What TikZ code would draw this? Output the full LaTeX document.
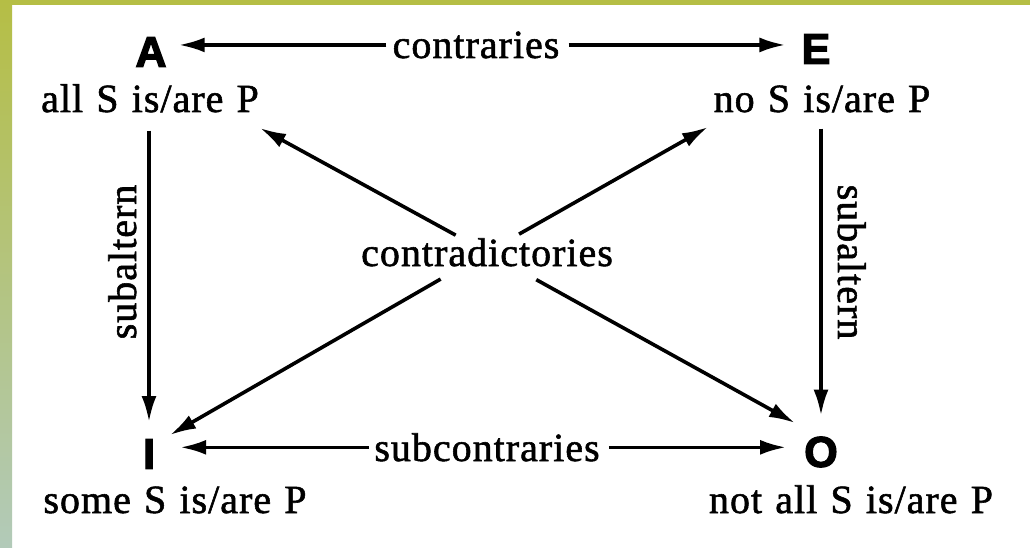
\documentclass[tikz,border=0pt]{standalone}
\usepackage{fontspec}
\setmainfont{Liberation Serif}[LetterSpace=2.5,WordSpace=1.2,FakeBold=1.4]
\newfontfamily\lf{Liberation Sans Bold}[FakeBold=3]
\usetikzlibrary{arrows.meta}
\definecolor{barTop}{HTML}{B5BE45}
\definecolor{barBot}{HTML}{B2CAB9}
\begin{document}
\begin{tikzpicture}[x=1pt,y=-1pt,
  txt/.style={font=\fontsize{40}{44}\selectfont, inner sep=0pt, anchor=base},
  let/.style={font=\lf\fontsize{43}{46}\selectfont, inner sep=0pt},
  arr/.style={line width=3.6pt, -{Latex[length=26pt,width=15pt]}}
]
\useasboundingbox (0,0) rectangle (1030,548);
\fill[white] (0,0) rectangle (1030,548);
\fill[barTop] (0,0) rectangle (1030,5);
\shade[top color=barTop, bottom color=barBot] (0,0) rectangle (12,548);

\node[let] (A) at (151,52) {A};
\node[let] (E) at (816,49) {E};
\node[let] (I) at (149,454) {I};
\node[let] (O) at (821,452) {O};

\node[txt] (allS) at (150,112) {all S is/are P};
\node[txt] (noS) at (822,112) {no S is/are P};
\node[txt] (someS) at (175,513) {some S is/are P};
\node[txt] (notall) at (851,513) {not all S is/are P};

\node[txt] (contr) at (476,58) {contraries};
\node[txt] (subc) at (487,461) {subcontraries};
\node[txt] (cd) at (487,266) {contradictories};
\node[txt, rotate=90] (sl) at (136,262) {subaltern};
\node[txt, rotate=-90] (sr) at (838,262) {subaltern};

\coordinate (tA) at (260,128);
\coordinate (tE) at (708,127);
\coordinate (tI) at (170,435);
\coordinate (tO) at (795,423);

\draw[arr, shorten <=6pt, shorten >=12pt] (contr.west) -- (contr.west -| A.east);
\draw[arr, shorten <=9pt, shorten >=16pt] (contr.east) -- (contr.east -| E.west);
\draw[arr, shorten <=5pt, shorten >=25pt] (subc.west) -- (subc.west -| I.east);
\draw[arr, shorten <=9pt, shorten >=18pt] (subc.east) -- (subc.east -| O.west);

\draw[arr, shorten <=18pt, shorten >=17pt] (allS.south -| I.north) -- (I.north);
\draw[arr, shorten <=16pt, shorten >=21pt] (noS.south -| O.north) -- (O.north);

\draw[arr, shorten <=6pt] (cd) -- (tA);
\draw[arr, shorten <=8pt] (cd) -- (tE);
\draw[arr, shorten <=25pt] (cd) -- (tI);
\draw[arr, shorten <=27pt] (cd) -- (tO);
\end{tikzpicture}
\end{document}
